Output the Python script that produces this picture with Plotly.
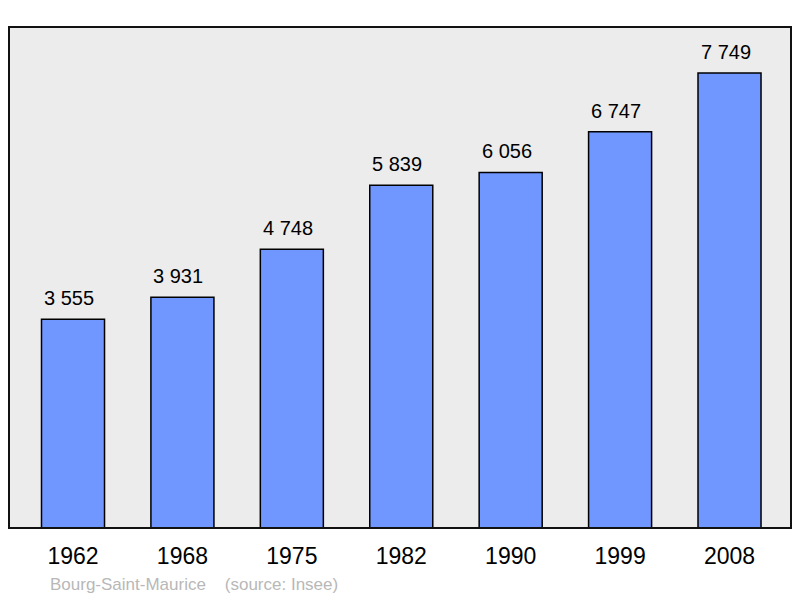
import plotly.graph_objects as go

years = ["1962", "1968", "1975", "1982", "1990", "1999", "2008"]
population = [3555, 3931, 4748, 5839, 6056, 6747, 7749]
source_text = "Bourg-Saint-Maurice    (source: Insee)"

def fmt(v):
    return f"{v:,}".replace(",", " ")

xs = list(range(len(years)))

fig = go.Figure()
fig.add_trace(go.Bar(
    x=xs, y=population, width=0.576,
    marker=dict(color="#7096ff", line=dict(color="#000000", width=1.5)),
    hoverinfo="skip",
))

for x, v in zip(xs, population):
    fig.add_annotation(x=x, y=v, text=fmt(v), showarrow=False,
                       yanchor="bottom", yshift=8, xshift=-4,
                       font=dict(size=20, color="#000000", family="Liberation Sans"))

fig.add_annotation(x=(48 - 9) / 782, y=-(584 - 528) / 501, xref="paper", yref="paper",
                   text=source_text, showarrow=False, xanchor="left", yanchor="middle",
                   font=dict(size=17, color="#b8b8b8", family="Liberation Sans"))

fig.add_shape(type="rect", xref="paper", yref="paper", x0=0, y0=0, x1=1, y1=1,
              line=dict(color="#111111", width=2), layer="above")

fig.update_layout(
    width=800, height=598,
    margin=dict(l=9, r=9, t=27, b=70),
    paper_bgcolor="#ffffff", plot_bgcolor="#ececec",
    showlegend=False,
    font=dict(family="Liberation Sans", color="#000000"),
    xaxis=dict(range=[-0.585, 6.562], tickvals=xs, ticktext=years,
               tickfont=dict(size=23), showgrid=False, zeroline=False,
               showline=False, ticks="", ticklabelstandoff=12),
    yaxis=dict(range=[0, 8532], showgrid=False, zeroline=False,
               showticklabels=False, showline=False, ticks=""),
)

fig.write_html("out.html", config={"displayModeBar": False},
               post_script="document.body.style.margin='0';document.body.style.overflow='hidden';")
